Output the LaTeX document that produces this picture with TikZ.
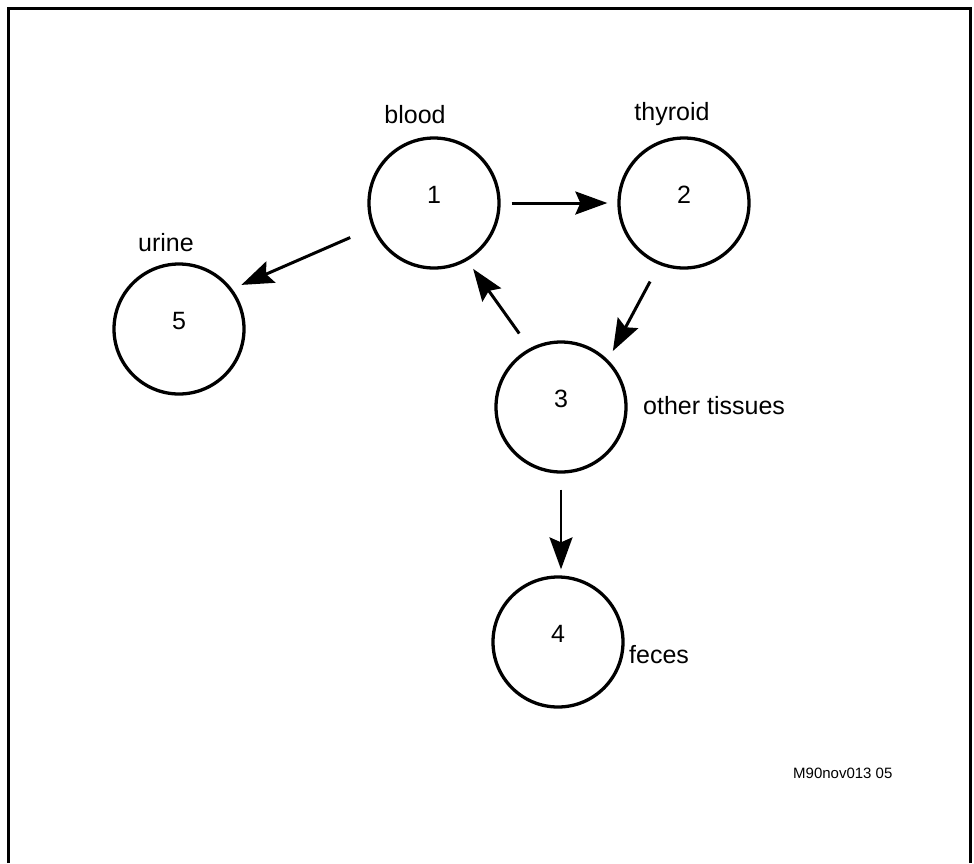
\documentclass[tikz,border=0pt]{standalone}
\usepackage{fontspec}
\setmainfont{Liberation Sans}
\usetikzlibrary{arrows.meta, positioning}

\begin{document}
\begin{tikzpicture}[x=1pt, y=-1pt,
  pool/.style={circle, draw, line width=3.3pt, minimum size=130pt, inner sep=0pt},
  tag/.style={inner sep=0pt, font=\fontsize{25}{30}\selectfont},
  flow/.style={-{Stealth[length=32pt, width=23pt, inset=5pt]}, line width=3pt}]

\useasboundingbox (0,0) rectangle (974,863);
\draw[line width=3pt] (8,863) -- (8,8) -- (970,8) -- (970,863);

% compartments
\node[pool] (blood) at (434,203) {};
\node[pool] (thyroid) at (684,203) {};
\node[pool] (tissues) at (561,407) {};
\node[pool] (feces) at (558,642) {};
\node[pool] (urine) at (179,329) {};

\node[tag, anchor=base] (num1) at (blood.center) {1};
\node[tag, anchor=base] (num2) at (thyroid.center) {2};
\node[tag, anchor=base] (num3) at (tissues.center) {3};
\node[tag, anchor=base] (num4) at (feces.center) {4};
\node[tag, anchor=base] (num5) at (urine.center) {5};

\node[tag, anchor=base] (lblood) at (415,123) {blood};
\node[tag, anchor=base] (lthyroid) at (672,120) {thyroid};
\node[tag, anchor=base] (lurine) at (166,251) {urine};
\node[tag, anchor=base west] (ltissues) at (643,414) {other tissues};
\node[tag, anchor=base west] (lfeces) at (629,663) {feces};

\node[inner sep=0pt, anchor=base west, font=\fontsize{15}{18}\selectfont] (code) at (793,778) {M90nov013 05};

% transfers
\draw[flow, shorten <=11pt, shorten >=10pt] (blood.east) -- (thyroid.west);
\draw[flow, shorten <=19pt, shorten >=10pt] (thyroid.248) -- (tissues.45);
\draw[flow, shorten <=18pt, shorten >=10pt] (tissues.118) -- (blood.300);
\draw[flow, shorten <=24pt, shorten >=10pt] (blood.202) -- (urine.37);
\draw[flow, line width=2.2pt, shorten <=16pt, shorten >=6pt] (tissues.south) -- (tissues.south |- feces.north);

\end{tikzpicture}
\end{document}
